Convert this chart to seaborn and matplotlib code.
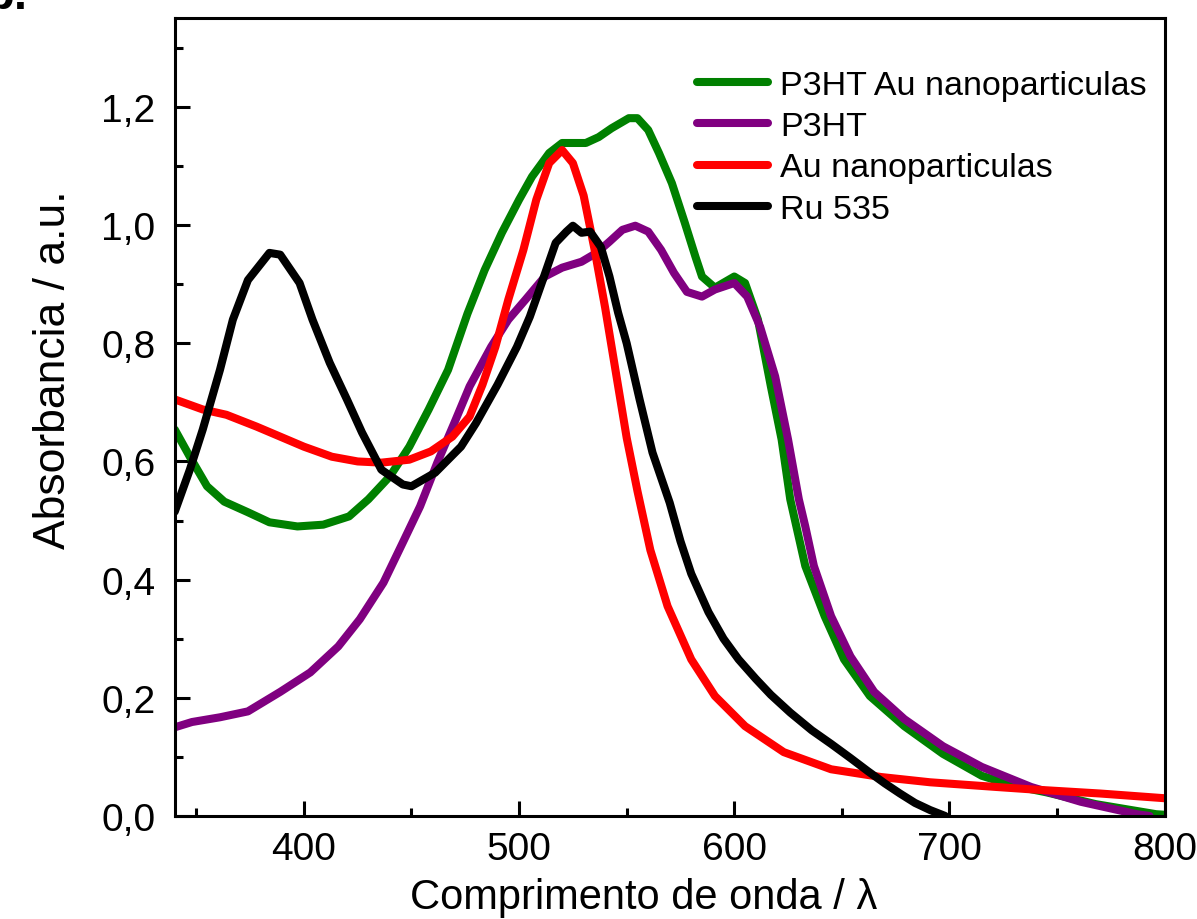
"""
Absorbance spectra of P3HT, Au nanoparticles, their blend and Ru 535 dye.
Values read off the original figure.
"""

import matplotlib
matplotlib.use("Agg")
import matplotlib.pyplot as plt
from matplotlib.ticker import MultipleLocator, FuncFormatter
import seaborn as sns

# P3HT + Au nanoparticulas
green_x = [340, 347, 355, 363, 374, 384, 397, 409, 421, 430, 440, 449, 458, 467,
           476, 484, 492, 500, 506, 514, 520, 531, 537, 543, 551, 555, 560, 565,
           571, 577, 582, 585, 591, 600, 605, 611, 617, 622, 626, 633, 642, 651,
           663, 679, 697, 715, 730, 745, 768, 796, 800]
green_y = [0.654, 0.608, 0.558, 0.532, 0.514, 0.497, 0.490, 0.493, 0.507, 0.536,
           0.575, 0.625, 0.688, 0.755, 0.850, 0.924, 0.987, 1.043, 1.082, 1.122,
           1.139, 1.139, 1.149, 1.164, 1.181, 1.181, 1.161, 1.122, 1.071, 1.004,
           0.946, 0.913, 0.894, 0.913, 0.902, 0.840, 0.727, 0.637, 0.536, 0.423,
           0.338, 0.265, 0.203, 0.152, 0.105, 0.068, 0.051, 0.040, 0.020, 0.003,
           0.002]

# P3HT
purple_x = [340, 348, 361, 374, 389, 403, 416, 426, 437, 446, 454, 462, 470, 477,
            487, 495, 503, 512, 520, 529, 536, 542, 548, 554, 560, 566, 572, 578,
            585, 591, 600, 606, 612, 619, 625, 630, 633, 637, 645, 654, 665, 679,
            697, 715, 738, 761, 787, 793]
purple_y = [0.150, 0.159, 0.167, 0.177, 0.210, 0.243, 0.287, 0.333, 0.395, 0.463,
            0.524, 0.598, 0.666, 0.727, 0.794, 0.840, 0.874, 0.913, 0.928, 0.938,
            0.953, 0.972, 0.992, 0.999, 0.989, 0.958, 0.919, 0.887, 0.879, 0.891,
            0.902, 0.879, 0.828, 0.744, 0.637, 0.536, 0.490, 0.423, 0.338, 0.270,
            0.210, 0.164, 0.118, 0.083, 0.049, 0.024, 0.003, 0.0]

# Au nanoparticulas
red_x = [340, 353, 364, 378, 389, 400, 413, 425, 436, 449, 459, 469, 477, 483,
         489, 495, 502, 508, 514, 520, 525, 530, 535, 540, 545, 550, 555, 561,
         569, 580, 591, 605, 623, 645, 668, 691, 722, 738, 770, 800]
red_y = [0.705, 0.688, 0.679, 0.659, 0.642, 0.625, 0.608, 0.600, 0.598, 0.603,
         0.617, 0.642, 0.676, 0.730, 0.794, 0.874, 0.958, 1.043, 1.105, 1.127,
         1.105, 1.050, 0.960, 0.860, 0.750, 0.640, 0.550, 0.450, 0.355, 0.265,
         0.203, 0.152, 0.108, 0.079, 0.066, 0.057, 0.049, 0.045, 0.038, 0.030]

# Ru 535
black_x = [340, 347, 353, 361, 367, 374, 384, 389, 398, 404, 412, 420, 427, 436,
           446, 450, 461, 473, 480, 490, 499, 505, 511, 517, 522, 525, 529, 533,
           538, 542, 546, 550, 556, 562, 570, 575, 580, 588, 595, 602, 610, 617,
           626, 636, 645, 654, 662, 670, 677, 684, 691, 698]
black_y = [0.515, 0.586, 0.654, 0.755, 0.840, 0.907, 0.953, 0.950, 0.902, 0.840,
           0.767, 0.705, 0.649, 0.586, 0.561, 0.558, 0.581, 0.625, 0.665, 0.730,
           0.794, 0.845, 0.907, 0.970, 0.989, 0.999, 0.987, 0.989, 0.963, 0.913,
           0.852, 0.800, 0.705, 0.615, 0.530, 0.465, 0.410, 0.345, 0.300, 0.265,
           0.232, 0.205, 0.175, 0.145, 0.122, 0.098, 0.076, 0.055, 0.038, 0.022,
           0.010, 0.0]

series = [
    ("P3HT Au nanoparticulas", green_x, green_y, "#008000"),
    ("P3HT", purple_x, purple_y, "#800080"),
    ("Au nanoparticulas", red_x, red_y, "#ff0000"),
    ("Ru 535", black_x, black_y, "#000000"),
]


def comma_fmt(v, pos):
    return f"{v:.1f}".replace(".", ",")


def main():
    sns.set_style("ticks")
    plt.rcParams["font.family"] = ["Liberation Sans", "DejaVu Sans"]
    plt.rcParams.update({
        "text.color": "black",
        "axes.labelcolor": "black",
        "axes.edgecolor": "black",
        "xtick.color": "black",
        "ytick.color": "black",
    })

    fig = plt.figure(figsize=(11.97, 9.2), dpi=100)
    ax = fig.add_axes([0.146, 0.112, 0.827, 0.867])

    for label, xs, ys, color in series:
        sns.lineplot(x=xs, y=ys, ax=ax, color=color, linewidth=5.8, label=label)

    ax.set_xlim(340, 800)
    ax.set_ylim(0, 1.35)
    ax.xaxis.set_major_locator(MultipleLocator(100))
    ax.xaxis.set_minor_locator(MultipleLocator(50))
    ax.yaxis.set_major_locator(MultipleLocator(0.2))
    ax.yaxis.set_minor_locator(MultipleLocator(0.1))
    ax.yaxis.set_major_formatter(FuncFormatter(comma_fmt))

    ax.tick_params(which="major", direction="in", length=11, width=2.2,
                   labelsize=28)
    ax.tick_params(which="minor", direction="in", length=6, width=2.2)
    ax.tick_params(axis="x", which="major", pad=11)
    ax.tick_params(axis="y", which="major", pad=14)
    for side in ["left", "right", "top", "bottom"]:
        ax.spines[side].set_visible(True)
        ax.spines[side].set_linewidth(2.2)

    ax.set_xlabel("Comprimento de onda / λ", fontsize=30)
    ax.set_ylabel("Absorbancia / a.u.", fontsize=32)
    ax.xaxis.set_label_coords(0.474, -0.077)
    ax.yaxis.set_label_coords(-0.102, 0.561)

    ax.legend(loc="upper right", frameon=False, fontsize=24.5, handlelength=2.1,
              handletextpad=0.35, labelspacing=0.3, borderaxespad=0.3,
              bbox_to_anchor=(1.006, 0.965))

    fig.text(-14 / 1197, 1 - 9 / 920, "b.", fontsize=34, fontweight="bold",
             va="baseline", ha="left")

    fig.savefig("out.png", dpi=100)
    plt.close(fig)


if __name__ == "__main__":
    main()
